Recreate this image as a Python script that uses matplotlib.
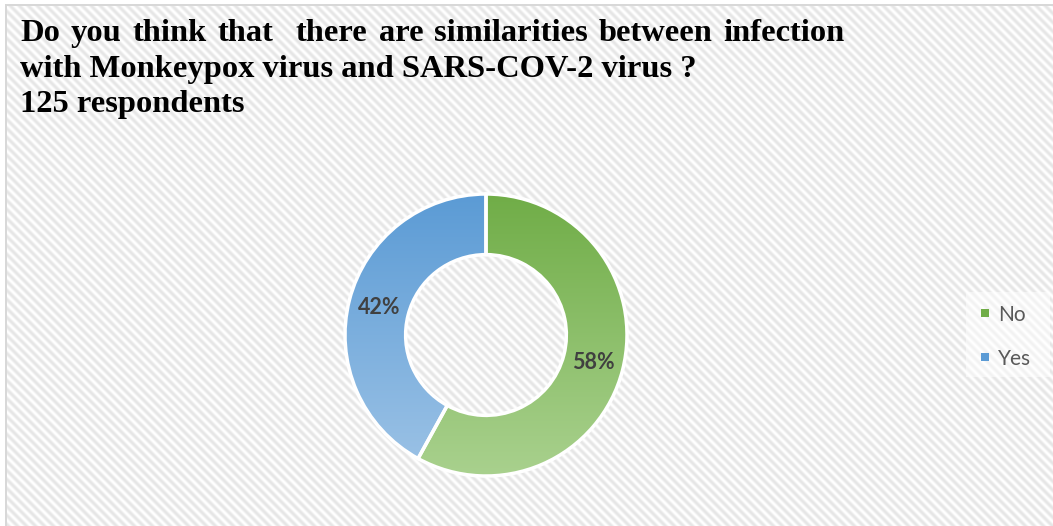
import numpy as np
import matplotlib
matplotlib.use("Agg")
import matplotlib.pyplot as plt
from matplotlib.colors import to_rgb
from matplotlib.patches import Rectangle

# ---- data ----
title_lines = [
    "Do you think that  there are similarities between infection",
    "with Monkeypox virus and SARS-COV-2 virus ?",
    "125 respondents",
]
categories = ["No", "Yes"]
shares = [58, 42]
top_colors = ["#70AD47", "#5B9BD5"]
bottom_colors = ["#A9D18E", "#9DC3E6"]

W, H, DPI = 1053, 526, 100
fig = plt.figure(figsize=(W / DPI, H / DPI), dpi=DPI)

# ---- striped chart-area background with a light frame ----
yy, xx = np.mgrid[0:H, 0:W]
period = 9.0
phase = ((xx - yy) % period) / period
stripe = 0.5 - 0.5 * np.cos(2 * np.pi * phase)
bg = 1.0 - 0.10 * stripe
bg[:4, :] = 1.0
bg[:, :5] = 1.0
bg[4:6, 5:] = 0.85
bg[4:, 5:7] = 0.85
# soft white panel behind the legend
bg[292:377, 966:1050] = 1.0 - 0.05 * stripe[292:377, 966:1050]
fig.figimage(np.dstack([bg, bg, bg]), xo=0, yo=0, origin="upper", zorder=-5)

# ---- title, first line justified ----
title_font = dict(family="Liberation Serif", weight="bold", size=23.4, color="black")
renderer = fig.canvas.get_renderer()
baselines = [41, 77, 112]
x_left, x_right = 20, 845


def text_width(s):
    t = fig.text(0, 0, s, **title_font)
    w = t.get_window_extent(renderer).width
    t.remove()
    return w


tokens = title_lines[0].split(" ")
widths = [text_width(tok) if tok else 0.0 for tok in tokens]
space = (x_right - x_left - sum(widths)) / (len(tokens) - 1)
x = x_left
for tok, w in zip(tokens, widths):
    if tok:
        fig.text(x / W, 1 - baselines[0] / H, tok, va="baseline", ha="left", **title_font)
    x += w + space
for line, b in zip(title_lines[1:], baselines[1:]):
    fig.text(x_left / W, 1 - b / H, line, va="baseline", ha="left", **title_font)

# ---- doughnut ----
cx, cy, R = 486, H - 335, 141
half = 1.1 * R
ax = fig.add_axes([(cx - half) / W, (cy - half) / H, 2 * half / W, 2 * half / H])
ax.axis("off")
ax.patch.set_alpha(0)

ring = 0.43
wedges, _, autotexts = ax.pie(
    shares,
    startangle=90,
    counterclock=False,
    radius=1.0,
    autopct=lambda p: f"{p:.0f}%",
    pctdistance=1 - ring / 2,
    wedgeprops=dict(width=ring, edgecolor="white", linewidth=2.5, facecolor="none"),
    textprops=dict(family="Lato", weight="bold", size=15.5, color="#404040"),
)

n = 256
for wdg, c_top, c_bot in zip(wedges, top_colors, bottom_colors):
    t = np.linspace(0, 1, n)[:, None, None]
    grad = (1 - t) * np.array(to_rgb(c_top)) + t * np.array(to_rgb(c_bot))
    grad = np.repeat(grad, 2, axis=1)
    im = ax.imshow(grad, extent=[-1, 1, -1, 1], origin="upper",
                   aspect="auto", interpolation="bilinear", zorder=1)
    im.set_clip_path(wdg)
    wdg.set_zorder(2)
for t in autotexts:
    t.set_zorder(3)
ax.set_xlim(-1.1, 1.1)
ax.set_ylim(-1.1, 1.1)
ax.set_aspect("equal")

# ---- legend ----
legend_rows = [313, 357]
for name, color, row in zip(categories, top_colors, legend_rows):
    fig.add_artist(Rectangle((981 / W, (H - row - 4) / H), 8 / W, 8 / H,
                             transform=fig.transFigure, facecolor=color,
                             edgecolor="none"))
    fig.text(998 / W, 1 - row / H, name, family="Lato", size=15,
             color="#595959", va="center_baseline", ha="left")

fig.savefig("out.png", dpi=DPI)
